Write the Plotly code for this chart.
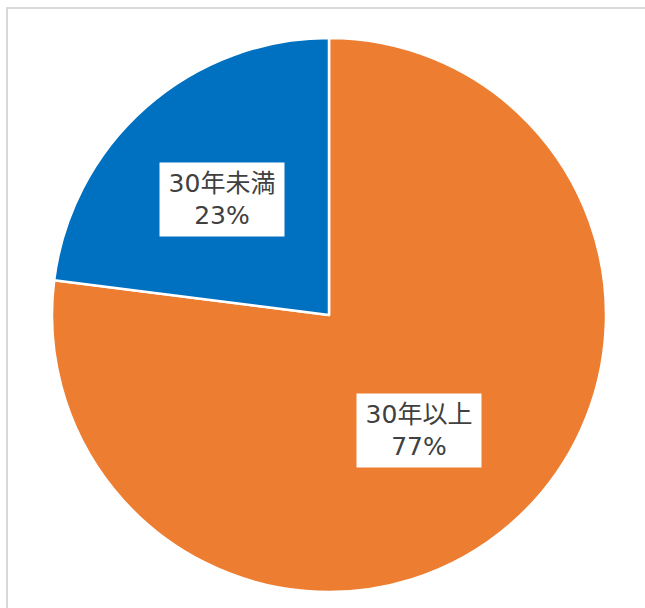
import math
import plotly.graph_objects as go

labels = ["30年以上", "30年未満"]
values = [77, 23]
colors = ["#ED7D31", "#0070C0"]

W, H = 645, 608
L, R, T, B = 52, 39, 38, 16
pw, ph = W - L - R, H - T - B

fig = go.Figure(go.Pie(
    labels=labels, values=values, sort=False, direction="clockwise", rotation=0,
    marker=dict(colors=colors, line=dict(color="white", width=2.5)),
    textinfo="none", hoverinfo="label+percent", showlegend=False,
    domain=dict(x=[0, 1], y=[0, 1]),
))

# label annotations positioned from slice mid-angles
total = sum(values)
cum = 0
frac_r = [0.53, 0.57]
ang_off = [3.5, -1.5]
for i, (lab, v) in enumerate(zip(labels, values)):
    mid = (cum + v / 2) / total * 2 * math.pi + math.radians(ang_off[i])
    cum += v
    r = frac_r[i] * 0.5
    xp = 0.5 + r * math.sin(mid)
    yp = 0.5 + r * math.cos(mid)
    fig.add_annotation(
        x=xp, y=yp, xref="paper", yref="paper", xanchor="center", yanchor="middle",
        text=f"{lab}<br>{round(v / total * 100)}%",
        showarrow=False, bgcolor="white", width=122, height=71,
        font=dict(family="DejaVu Sans, Noto Sans CJK JP", size=25, color="#404040"),
        align="center", valign="middle",
    )

# outer chart frame
fig.add_shape(type="rect", xref="paper", yref="paper",
              x0=(7 - L) / pw, x1=(W + 20 - L) / pw,
              y0=1 - (H + 20 - T) / ph, y1=1 + (T - 8) / ph,
              line=dict(color="#D9D9D9", width=2), layer="below")

fig.update_layout(
    width=W, height=H,
    margin=dict(l=L, r=R, t=T, b=B),
    paper_bgcolor="white", plot_bgcolor="white",
)
fig.write_html("out.html")
